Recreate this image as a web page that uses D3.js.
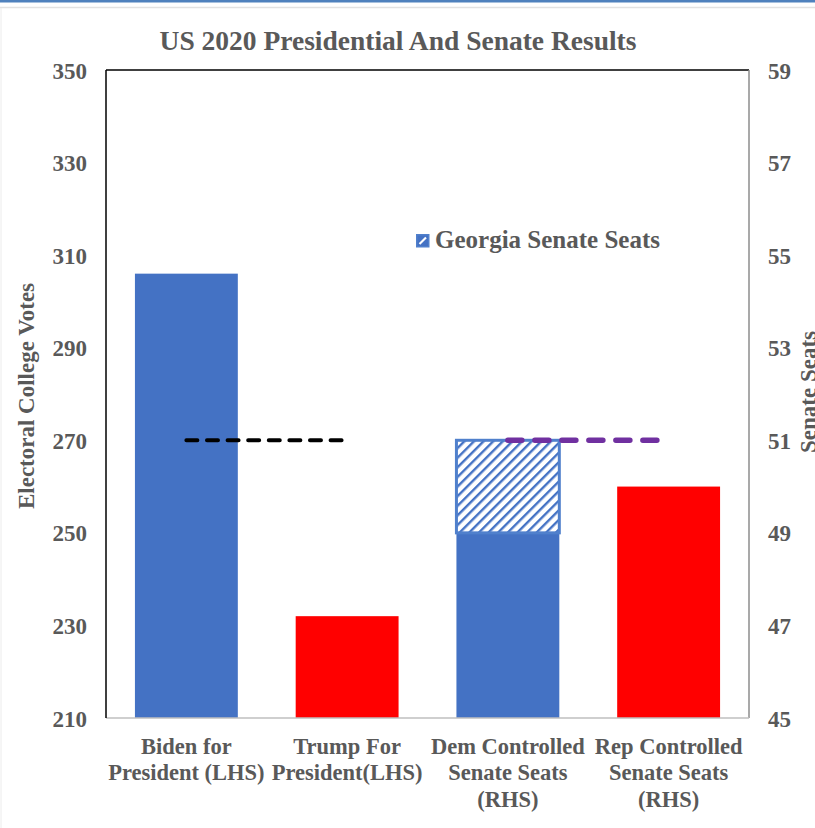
<!DOCTYPE html>
<html>
<head>
<meta charset="utf-8">
<script src="https://cdn.jsdelivr.net/npm/d3@7"></script>
<style>
  html, body { margin: 0; padding: 0; background: #fff; }
  svg { display: block; }
  text { font-family: "Liberation Serif", "Times New Roman", serif; font-weight: bold; fill: #595959; }
</style>
</head>
<body>
<script>
// Category labels, one entry per bar, split into lines
const categories = [
  ["Biden for", "President (LHS)"],
  ["Trump For", "President(LHS)"],
  ["Dem Controlled", "Senate Seats", "(RHS)"],
  ["Rep Controlled", "Senate Seats", "(RHS)"]
];
// Electoral college votes (left axis)
const electoralVotes = [306, 232];
// Senate seats (right axis): secured seats and Georgia runoff seats
const senateSeats = [49, 50];
const georgiaSeats = [2, 0];
// Majority thresholds
const majorityVotes = 270;
const majoritySeats = 51;
// Axis ticks
const leftTicks = [210, 230, 250, 270, 290, 310, 330, 350];
const rightTicks = [45, 47, 49, 51, 53, 55, 57, 59];

const W = 815, H = 828;
const plot = { left: 106, right: 749, top: 70, bottom: 718 };
const blue = "#4472c4", red = "#ff0000", purple = "#7030a0";

const svg = d3.select("body").append("svg").attr("width", W).attr("height", H);

// Window chrome lines at the top edge
svg.append("rect").attr("x", 0).attr("y", 0).attr("width", W).attr("height", 2.5).attr("fill", "#4f81bd");
svg.append("line").attr("x1", 0).attr("x2", W).attr("y1", 7.5).attr("y2", 7.5).attr("stroke", "#e2e2e2").attr("stroke-width", 1.5);
svg.append("line").attr("x1", 1).attr("x2", 1).attr("y1", 8).attr("y2", H).attr("stroke", "#ececec").attr("stroke-width", 1);

// Hatch pattern for Georgia seats
const defs = svg.append("defs");
const pat = defs.append("pattern").attr("id", "hatch").attr("patternUnits", "userSpaceOnUse")
  .attr("width", 6.8).attr("height", 6.8).attr("patternTransform", "rotate(45)");
pat.append("rect").attr("width", 6.8).attr("height", 6.8).attr("fill", "#fff");
pat.append("rect").attr("x", 0).attr("y", 0).attr("width", 2.4).attr("height", 6.8).attr("fill", blue);

const x = d3.scaleBand().domain(d3.range(categories.length))
  .range([plot.left, plot.right]).paddingInner(0.36).paddingOuter(0.18);
const yL = d3.scaleLinear().domain([210, 350]).range([plot.bottom, plot.top]);
const yR = d3.scaleLinear().domain([45, 59]).range([plot.bottom, plot.top]);

// Presidential bars (left axis)
svg.append("g").selectAll("rect").data(electoralVotes).join("rect")
  .attr("x", (d, i) => x(i)).attr("width", x.bandwidth())
  .attr("y", d => yL(d)).attr("height", d => yL(210) - yL(d))
  .attr("fill", (d, i) => i === 0 ? blue : red);

// Senate bars (right axis)
const senateIdx = [2, 3];
svg.append("g").selectAll("rect").data(senateSeats).join("rect")
  .attr("x", (d, i) => x(senateIdx[i])).attr("width", x.bandwidth())
  .attr("y", d => yR(d)).attr("height", d => yR(45) - yR(d))
  .attr("fill", (d, i) => i === 0 ? blue : red);

// Georgia seats stacked on top
svg.append("g").selectAll("rect").data(georgiaSeats.map((g, i) => ({ g, base: senateSeats[i], idx: senateIdx[i] })).filter(d => d.g > 0))
  .join("rect")
  .attr("x", d => x(d.idx)).attr("width", x.bandwidth())
  .attr("y", d => yR(d.base + d.g)).attr("height", d => yR(d.base) - yR(d.base + d.g))
  .attr("fill", "url(#hatch)").attr("stroke", "#5080cc").attr("stroke-width", 3);

// Majority lines
const cx = i => x(i) + x.bandwidth() / 2;
svg.append("line").attr("x1", cx(0)).attr("x2", cx(1))
  .attr("y1", yL(majorityVotes)).attr("y2", yL(majorityVotes))
  .attr("stroke", "#000").attr("stroke-width", 4).attr("stroke-linecap", "round")
  .attr("stroke-dasharray", "11,9.6");
svg.append("line").attr("x1", cx(2)).attr("x2", cx(3))
  .attr("y1", yR(majoritySeats)).attr("y2", yR(majoritySeats))
  .attr("stroke", purple).attr("stroke-width", 5.5).attr("stroke-linecap", "round")
  .attr("stroke-dasharray", "14,13");

// Plot frame
svg.append("line").attr("x1", plot.left).attr("x2", plot.right).attr("y1", plot.top).attr("y2", plot.top).attr("stroke", "#000").attr("stroke-width", 1.5);
svg.append("line").attr("x1", plot.right).attr("x2", plot.right).attr("y1", plot.top).attr("y2", plot.bottom).attr("stroke", "#8c8c8c").attr("stroke-width", 1.5);
svg.append("line").attr("x1", plot.left).attr("x2", plot.right).attr("y1", plot.bottom).attr("y2", plot.bottom).attr("stroke", "#bfbfbf").attr("stroke-width", 1.5);
svg.append("line").attr("x1", plot.left).attr("x2", plot.left).attr("y1", plot.top).attr("y2", plot.bottom).attr("stroke", "#000").attr("stroke-width", 1.5);

// Axes
const axL = svg.append("g").attr("transform", `translate(${plot.left},0)`)
  .call(d3.axisLeft(yL).tickValues(leftTicks).tickSize(0).tickPadding(19));
axL.select(".domain").remove();
axL.selectAll("text").attr("dy", "0.35em")
  .style("font-size", "23px").style("font-family", null).attr("fill", "#595959");

const axR = svg.append("g").attr("transform", `translate(${plot.right},0)`)
  .call(d3.axisRight(yR).tickValues(rightTicks).tickSize(0).tickPadding(19));
axR.select(".domain").remove();
axR.selectAll("text").attr("dy", "0.35em")
  .style("font-size", "23px").style("font-family", null).attr("fill", "#595959");

// Category labels
const lab = svg.append("g").selectAll("g").data(categories).join("g")
  .attr("transform", (d, i) => `translate(${cx(i)},754)`);
lab.selectAll("text").data(d => d).join("text")
  .attr("text-anchor", "middle").attr("y", (d, j) => j * 26.3)
  .style("font-size", "22.5px").text(d => d);

// Title
svg.append("text").attr("text-anchor", "middle")
  .attr("transform", "translate(398,50)")
  .style("font-size", "27.5px").text("US 2020 Presidential And Senate Results");

// Axis titles
svg.append("text").attr("text-anchor", "middle")
  .attr("transform", "translate(34,396) rotate(-90)")
  .style("font-size", "23px").text("Electoral College Votes");
svg.append("text").attr("text-anchor", "middle")
  .attr("transform", "translate(816,392) rotate(-90)")
  .style("font-size", "23px").text("Senate Seats");

// Legend
const leg = svg.append("g").attr("transform", "translate(416,234)");
leg.append("rect").attr("x", 0.75).attr("y", 0.75).attr("width", 12).attr("height", 12)
  .attr("fill", blue).attr("stroke", "#5080cc").attr("stroke-width", 1.5);
leg.append("line").attr("x1", 3.5).attr("y1", 10).attr("x2", 10).attr("y2", 3.5)
  .attr("stroke", "#fff").attr("stroke-width", 2.2);
leg.append("text").attr("transform", "translate(19,14)")
  .style("font-size", "25px").text("Georgia Senate Seats");
</script>
</body>
</html>
